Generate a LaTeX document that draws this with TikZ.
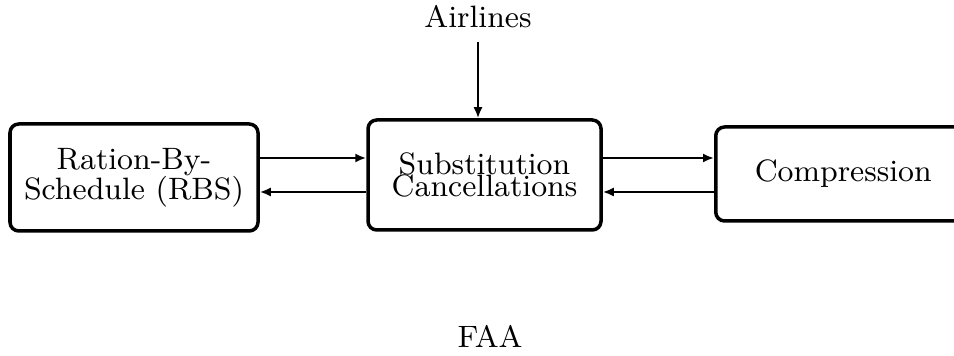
\documentclass[tikz,border=0pt]{standalone}
\usepackage{tikz}
\usetikzlibrary{arrows.meta, positioning}
\tikzset{
  stage/.style={rectangle, draw=black, fill=white, align=center,
    inner sep=0pt, rounded corners=2.5pt, line width=1pt},
  flow/.style={-{Latex[length=1.1mm, width=0.9mm]}, line width=0.6pt, color=black},
  actor/.style={inner sep=0pt}
}
\begin{document}
\begin{tikzpicture}[font=\fontsize{8.8pt}{10.5pt}\selectfont]
  \useasboundingbox (0,0) rectangle (9.54,3.56);

  % Stages
  \node[stage, minimum width=2.48cm, minimum height=1.07cm] (rbs) at (1.34,1.785)
    {Ration-By-\\[-2pt]Schedule (RBS)};
  \node[stage, minimum width=2.33cm, minimum height=1.10cm] (sub) at (4.845,1.81)
    {Substitution\\[-4pt]Cancellations};
  \node[stage, anchor=west, text width=2.0cm, align=left, inner xsep=0.39cm,
    minimum height=0.94cm] (comp) at (7.14,1.82) {Compression};

  % Actors
  \node[actor] (airlines) at (4.78,3.39) {Airlines};
  \node[actor] (faa) at (4.90,0.195) {FAA};

  % Flows
  \draw[flow] (airlines.south |- 0,3.14) -- (airlines.south |- sub.north);
  \draw[flow] (rbs.east |- 0,1.98) -- (sub.west |- 0,1.98);
  \draw[flow] (sub.west |- 0,1.64) -- (rbs.east |- 0,1.64);
  \draw[flow] (sub.east |- 0,1.98) -- (comp.west |- 0,1.98);
  \draw[flow] (comp.west |- 0,1.64) -- (sub.east |- 0,1.64);
\end{tikzpicture}
\end{document}
